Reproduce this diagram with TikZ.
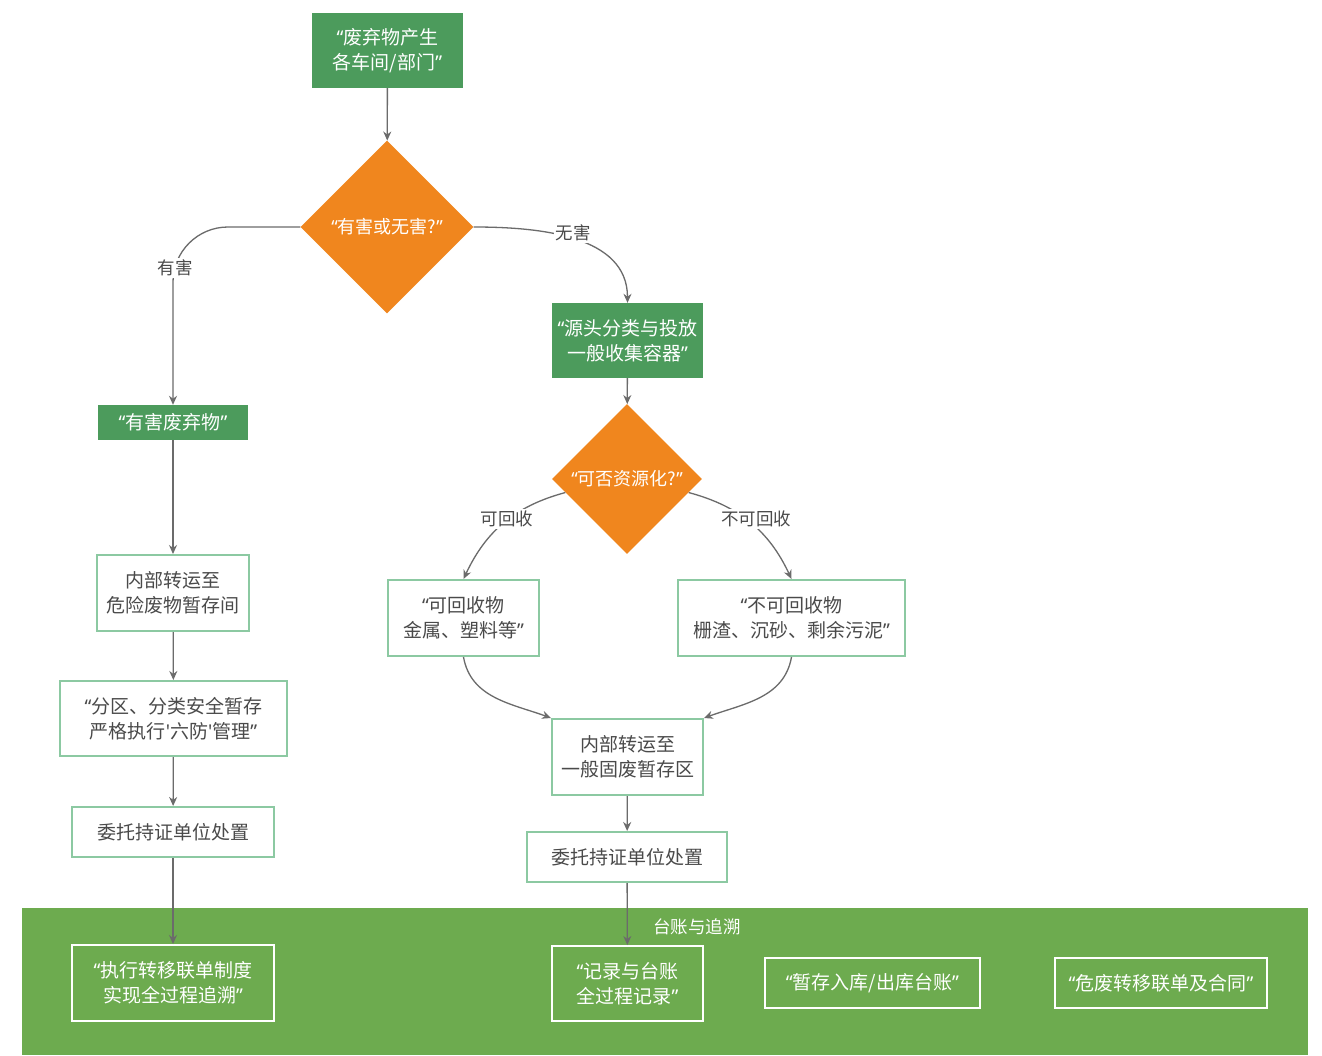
\documentclass[tikz,border=0pt]{standalone}
\usepackage{fontspec}
\setmainfont{Noto Sans CJK SC}
\newfontfamily\qfont{Noto Sans}
\newcommand\myoq{{\qfont “}}
\newcommand\mycq{{\qfont ”}}
\newcommand\mysq{{\qfont\textquotesingle}}
\usetikzlibrary{shapes.geometric,arrows.meta,calc}
\definecolor{gfill}{HTML}{4C9B5C}
\definecolor{orng}{HTML}{F0861E}
\definecolor{gline}{HTML}{8CC9A2}
\definecolor{band}{HTML}{6DAB4F}
\definecolor{arr}{HTML}{6B6B6B}
\definecolor{txt}{HTML}{4A4A4A}
\begin{document}
\begin{tikzpicture}[x=1pt,y=1pt,
  boxfont/.style={font=\fontsize{19}{25}\selectfont},
  filled/.style={boxfont, fill=gfill, draw=none, text=white, align=center, inner sep=0},
  outl/.style={boxfont, draw=gline, line width=2pt, fill=white, text=txt, align=center, inner sep=0},
  bandbox/.style={boxfont, draw=white, line width=2pt, text=white, align=center, inner sep=0},
  dia/.style={diamond, aspect=1, fill=orng, draw=none, text=white, inner sep=0, font=\fontsize{18}{20}\selectfont},
  arrow/.style={draw=arr, line width=1.3pt, -{Stealth[length=9pt,width=8pt]}},
  lbl/.style={fill=white, text=txt, font=\fontsize{17.5}{20}\selectfont, inner sep=2pt}]
\useasboundingbox (0,0) rectangle (1322,-1055);
\fill[white] (0,0) rectangle (1322,-1055);
% band
\fill[band] (22,-908) rectangle (1308,-1055);
\node[text=white, font=\fontsize{17.5}{20}\selectfont] (bandlbl) at (697,-927) {台账与追溯};
% nodes
\node[filled, minimum width=151, minimum height=75] (top) at (387.5,-50.5) {\myoq 废弃物产生\\各车间/部门\mycq};
\node[dia, minimum size=173] (d1) at (387,-227) {\myoq 有害或无害?\mycq};
\node[filled, minimum width=151, minimum height=75] (src) at (627.5,-340.5) {\myoq 源头分类与投放\\一般收集容器\mycq};
\node[dia, minimum size=150] (d2) at (627,-479) {\myoq 可否资源化?\mycq};
\node[outl, minimum width=151, minimum height=76] (rec) at (463.5,-618) {\myoq 可回收物\\金属、塑料等\mycq};
\node[outl, minimum width=227, minimum height=76] (nrec) at (791.5,-618) {\myoq 不可回收物\\栅渣、沉砂、剩余污泥\mycq};
\node[outl, minimum width=151, minimum height=76] (gf) at (627.5,-757) {内部转运至\\一般固废暂存区};
\node[outl, minimum width=200, minimum height=50] (wt2) at (627,-857) {委托持证单位处置};
\node[bandbox, minimum width=151, minimum height=75] (jl) at (627.5,-983.5) {\myoq 记录与台账\\全过程记录\mycq};
\node[filled, minimum width=150, minimum height=35] (hz) at (173,-422.5) {\myoq 有害废弃物\mycq};
\node[outl, minimum width=152, minimum height=76] (nb) at (173,-593) {内部转运至\\危险废物暂存间};
\node[outl, minimum width=227, minimum height=75] (fq) at (173.5,-718.5) {\myoq 分区、分类安全暂存\\严格执行\mysq 六防\mysq 管理\mycq};
\node[outl, minimum width=202, minimum height=50] (wt1) at (173,-832) {委托持证单位处置};
\node[bandbox, minimum width=202, minimum height=76] (zy) at (173,-983) {\myoq 执行转移联单制度\\实现全过程追溯\mycq};
\node[bandbox, minimum width=215, minimum height=50] (cr) at (872.5,-983) {\myoq 暂存入库/出库台账\mycq};
\node[bandbox, minimum width=212, minimum height=50] (wf) at (1161,-983) {\myoq 危废转移联单及合同\mycq};
% connectors
\draw[arrow] (top) -- (d1);
\draw[arrow, rounded corners=55] (d1.west) -| (hz.north);
\node[lbl] (lyh) at (175,-268) {有害};
\draw[arrow] (d1.east) to[out=0,in=90] (src.north);
\node[lbl] (lwh) at (573,-233) {无害};
\draw[arrow] (src) -- (d2);
\draw[arrow] ($(d2.west)!0.18!(d2.south)$) to[out=195,in=65] (rec.north);
\node[lbl] (lkh) at (507,-519) {可回收};
\draw[arrow] ($(d2.east)!0.18!(d2.south)$) to[out=-15,in=115] (nrec.north);
\node[lbl] (lbk) at (756,-519) {不可回收};
\draw[arrow] (rec.south) to[out=-80,in=160] (gf.north west);
\draw[arrow] (nrec.south) to[out=-100,in=20] (gf.north east);
\draw[arrow] (gf) -- (wt2);
\draw[arrow] (wt2) -- (jl);
\draw[arrow] (hz) -- (nb);
\draw[arrow] (nb) -- (fq);
\draw[arrow] (fq) -- (wt1);
\draw[arrow] (wt1) -- (zy);
\end{tikzpicture}
\end{document}
